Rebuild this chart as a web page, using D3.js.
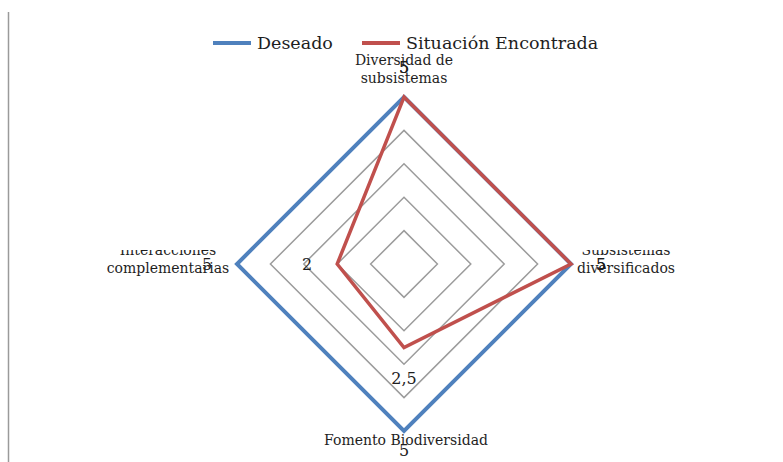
<!DOCTYPE html>
<html>
<head>
<meta charset="utf-8">
<script src="https://cdn.jsdelivr.net/npm/d3@7"></script>
<style>
  body { margin: 0; background: #fff; }
  text { font-family: "DejaVu Serif", serif; fill: #1e1e1e; }
</style>
</head>
<body>
<svg id="radar" width="783" height="462"></svg>
<script>
// categories, clockwise from the top
const categories = [
  ["Diversidad de", "subsistemas"],
  ["Subsistemas", "diversificados"],
  ["Fomento Biodiversidad"],
  ["Interacciones", "complementarias"]
];
const seriesNames = ["Deseado", "Situación Encontrada"];
const deseado = [5, 5, 5, 5];
const encontrada = [5, 5, 2.5, 2];
const ringValues = [1, 2, 3, 4, 5];
const colors = ["#4f81bd", "#c0504d"];

const svg = d3.select("#radar");
const cx = 404, cy = 264, radius = 167;

const r = d3.scaleLinear().domain([0, 5]).range([0, radius]);
const angle = d3.scaleLinear().domain([0, categories.length]).range([0, 2 * Math.PI]);
const fmt = v => String(v).replace(".", ",");

const pt = (i, v) => [cx + r(v) * Math.sin(angle(i)), cy - r(v) * Math.cos(angle(i))];

// page border on the left
svg.append("line")
  .attr("x1", 8.5).attr("x2", 8.5).attr("y1", 12).attr("y2", 462)
  .attr("stroke", "#9a9a9a").attr("stroke-width", 1.5);

const line = d3.line().curve(d3.curveLinearClosed);

// grid rings
svg.append("g").selectAll("path")
  .data(ringValues)
  .join("path")
  .attr("d", v => line(categories.map((c, i) => pt(i, v))))
  .attr("fill", "none")
  .attr("stroke", "#9c9c9c")
  .attr("stroke-width", 1.5);

// series
const series = [deseado, encontrada];
svg.append("g").selectAll("path")
  .data(series)
  .join("path")
  .attr("d", s => line(s.map((v, i) => pt(i, v))))
  .attr("fill", "none")
  .attr("stroke", (s, k) => colors[k])
  .attr("stroke-width", (s, k) => k == 0 ? 4 : 3.5)
  .attr("stroke-linejoin", "miter");

// clip that hides the top half of the side labels (as in the source)
const defs = svg.append("defs");
defs.append("clipPath").attr("id", "sideclip")
  .append("rect").attr("x", 0).attr("y", 250).attr("width", 783).attr("height", 212);
defs.append("clipPath").attr("id", "leftclip")
  .append("rect").attr("x", 0).attr("y", 257).attr("width", 783).attr("height", 205);

// data labels
const labelOff = 30;
series.forEach((s, k) => {
  svg.append("g").selectAll("text")
    .data(s)
    .join("text")
    .attr("x", (v, i) => cx + (r(v) + labelOff) * Math.sin(angle(i)))
    .attr("y", (v, i) => Math.min(cy - (r(v) + labelOff) * Math.cos(angle(i)) + 6, 456))
    .attr("text-anchor", "middle")
    .attr("clip-path", (v, i) => (i == 1 || i == 3) ? (k == 1 && i == 3 ? "url(#leftclip)" : "url(#sideclip)") : null)
    .style("font-size", "16px")
    .text(v => fmt(v));
});

// category labels
const catPos = [
  { x: 404, y: 65 },
  { x: 626, y: 255 },
  { x: 406, y: 445 },
  { x: 168, y: 255 }
];
categories.forEach((lines, i) => {
  const t = svg.append("text")
    .attr("x", catPos[i].x).attr("y", catPos[i].y)
    .attr("text-anchor", "middle")
    .style("font-size", "14px")
    .attr("clip-path", (i == 1 || i == 3) ? "url(#sideclip)" : null);
  lines.forEach((l, j) => {
    t.append("tspan").attr("x", catPos[i].x).attr("dy", j == 0 ? 0 : 18).text(l);
  });
});

// legend
const legend = svg.append("g");
const legX = [213, 362];
seriesNames.forEach((n, k) => {
  legend.append("line")
    .attr("x1", legX[k]).attr("x2", legX[k] + 38)
    .attr("y1", 43).attr("y2", 43)
    .attr("stroke", colors[k]).attr("stroke-width", 4);
  legend.append("text")
    .attr("x", legX[k] + 44).attr("y", 49)
    .style("font-size", "17.5px")
    .text(n);
});
</script>
</body>
</html>
